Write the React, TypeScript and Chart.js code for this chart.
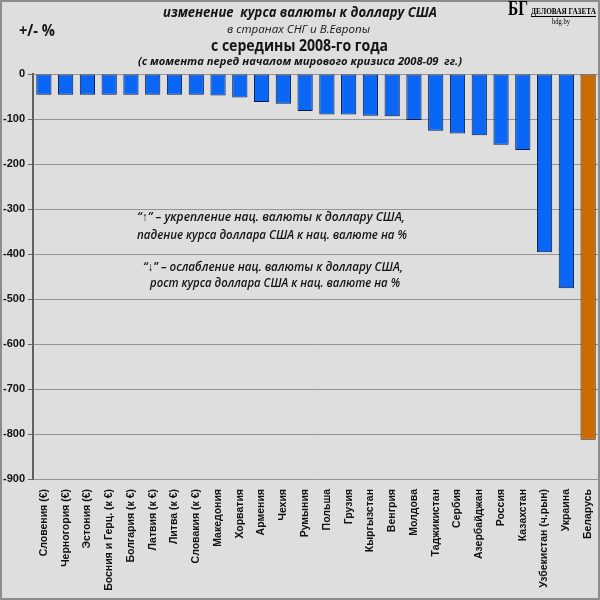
import { useEffect, useRef } from "react";
import { Chart, registerables } from "chart.js";

Chart.register(...registerables);

const categories = [
  "Словения (€)",
  "Черногория (€)",
  "Эстония (€)",
  "Босния и Герц. (к €)",
  "Болгария (к €)",
  "Латвия (к €)",
  "Литва (к €)",
  "Словакия (к €)",
  "Македония",
  "Хорватия",
  "Армения",
  "Чехия",
  "Румыния",
  "Польша",
  "Грузия",
  "Кыргызстан",
  "Венгрия",
  "Молдова",
  "Таджикистан",
  "Сербия",
  "Азербайджан",
  "Россия",
  "Казахстан",
  "Узбекистан (ч.рын)",
  "Украина",
  "Беларусь",
];

const values = [
  -46, -46, -46, -46, -46, -46, -46, -46, -48, -52, -62, -66, -82, -90, -90, -93, -94, -102, -126,
  -132, -136, -157, -169, -396, -476, -813,
];

const highlighted = ["Беларусь"];

const yMin = -900;
const yMax = 0;
const yStep = 100;

const titleLines = [
  "изменение  курса валюты к доллару США",
  "в странах СНГ и В.Европы",
  "с середины 2008-го года",
  "(с момента перед началом мирового кризиса 2008-09  гг.)",
];
const unitLabel = "+/- %";
const noteLines = [
  "“↑” – укрепление нац. валюты к доллару США,",
  "падение курса доллара США к нац. валюте на %",
  "“↓” – ослабление нац. валюты к доллару США,",
  "рост курса доллара США к нац. валюте на %",
];
const logoMark = "БГ";
const logoName = "ДЕЛОВАЯ ГАЗЕТА";
const logoSite = "bdg.by";

const BG = "#dedede";
const BLUE = "#0a66f5";
const ORANGE = "#cc6a00";

function fitText(ctx: CanvasRenderingContext2D, text: string, x: number, y: number, width: number) {
  const w = ctx.measureText(text).width;
  const s = w > 0 ? width / w : 1;
  ctx.save();
  ctx.translate(x, y);
  ctx.scale(s, 1);
  ctx.textAlign = "left";
  ctx.fillText(text, 0, 0);
  ctx.restore();
}

const decorPlugin = {
  id: "decor",
  beforeDraw(chart: any) {
    const ctx = chart.ctx as CanvasRenderingContext2D;
    const w = chart.width;
    const h = chart.height;
    ctx.save();
    ctx.fillStyle = BG;
    ctx.fillRect(0, 0, w, h);
    ctx.strokeStyle = "#8c8c8c";
    ctx.lineWidth = 2;
    ctx.strokeRect(1, 1, w - 2, h - 2);
    ctx.restore();
  },
  afterDraw(chart: any) {
    const ctx = chart.ctx as CanvasRenderingContext2D;
    ctx.save();
    ctx.fillStyle = "#141414";
    ctx.textBaseline = "middle";
    ctx.font = "italic bold 14px 'Open Sans'";
    fitText(ctx, titleLines[0], 163, 13, 274);
    ctx.font = "italic 11px 'Open Sans'";
    fitText(ctx, titleLines[1], 227, 30, 143);
    ctx.font = "bold 16px 'Open Sans'";
    fitText(ctx, titleLines[2], 211, 46, 177);
    ctx.font = "italic bold 11px 'Open Sans'";
    fitText(ctx, titleLines[3], 138, 62, 324);

    ctx.font = "bold 16px 'Open Sans'";
    fitText(ctx, unitLabel, 19, 31, 36);

    // logo
    ctx.fillStyle = "#000";
    ctx.font = "bold 21px 'Liberation Serif'";
    fitText(ctx, logoMark, 508, 10, 20);
    ctx.font = "bold 9px 'Liberation Serif'";
    fitText(ctx, logoName, 531, 12, 65);
    ctx.fillRect(531, 16, 65, 1);
    ctx.font = "8px 'Liberation Serif'";
    fitText(ctx, logoSite, 552, 22, 18);

    // notes inside plot
    ctx.fillStyle = "#141414";
    ctx.font = "italic 600 12px 'Open Sans'";
    fitText(ctx, noteLines[0], 137, 218, 268);
    fitText(ctx, noteLines[1], 137, 236, 270);
    fitText(ctx, noteLines[2], 143, 268, 260);
    fitText(ctx, noteLines[3], 150, 284, 250);
    ctx.restore();
  },
};

export default function App() {
  const ref = useRef<HTMLCanvasElement | null>(null);

  useEffect(() => {
    document.body.style.margin = "0";
    const canvas = ref.current;
    if (!canvas) return;
    const chart = new Chart(canvas, {
      type: "bar",
      data: {
        labels: categories,
        datasets: [
          {
            data: values,
            backgroundColor: categories.map((c) => (highlighted.includes(c) ? ORANGE : BLUE)),
            borderColor: categories.map((c) => (highlighted.includes(c) ? "#3a1e00" : "#0b1a4a")),
            borderWidth: 1,
            borderSkipped: false,
            barPercentage: 0.7,
            categoryPercentage: 1.0,
          },
        ],
      },
      options: {
        animation: false,
        responsive: false,
        devicePixelRatio: 1,
        layout: { padding: { top: 74, left: 0, right: 1, bottom: 2 } },
        plugins: {
          legend: { display: false },
          tooltip: { enabled: false },
          title: { display: false },
        },
        scales: {
          x: {
            grid: { display: false },
            border: { display: false },
            ticks: {
              autoSkip: false,
              minRotation: 90,
              maxRotation: 90,
              padding: 2,
              color: "#111",
              font: { family: "'Liberation Sans', Arial", size: 10.5, weight: "bold" },
            },
            afterFit(scale: any) {
              scale.height = 119;
              scale.paddingLeft = 0;
              scale.paddingRight = 0;
            },
          },
          y: {
            min: yMin,
            max: yMax,
            ticks: {
              stepSize: yStep,
              padding: 3,
              color: "#111",
              font: { family: "'Liberation Sans', Arial", size: 11, weight: "bold" },
            },
            grid: {
              color: "#949494",
              lineWidth: 1,
              tickLength: 5,
              tickColor: "#666",
            },
            border: { display: true, color: "#606060", width: 2 },
            afterFit(scale: any) {
              scale.width = 33;
              scale.paddingTop = 0;
              scale.paddingBottom = 0;
            },
          },
        },
      },
      plugins: [decorPlugin],
    });
    return () => chart.destroy();
  }, []);

  return (
    <div style={{ width: 600, height: 600 }}>
      <canvas ref={ref} width={600} height={600} style={{ display: "block" }} />
    </div>
  );
}
